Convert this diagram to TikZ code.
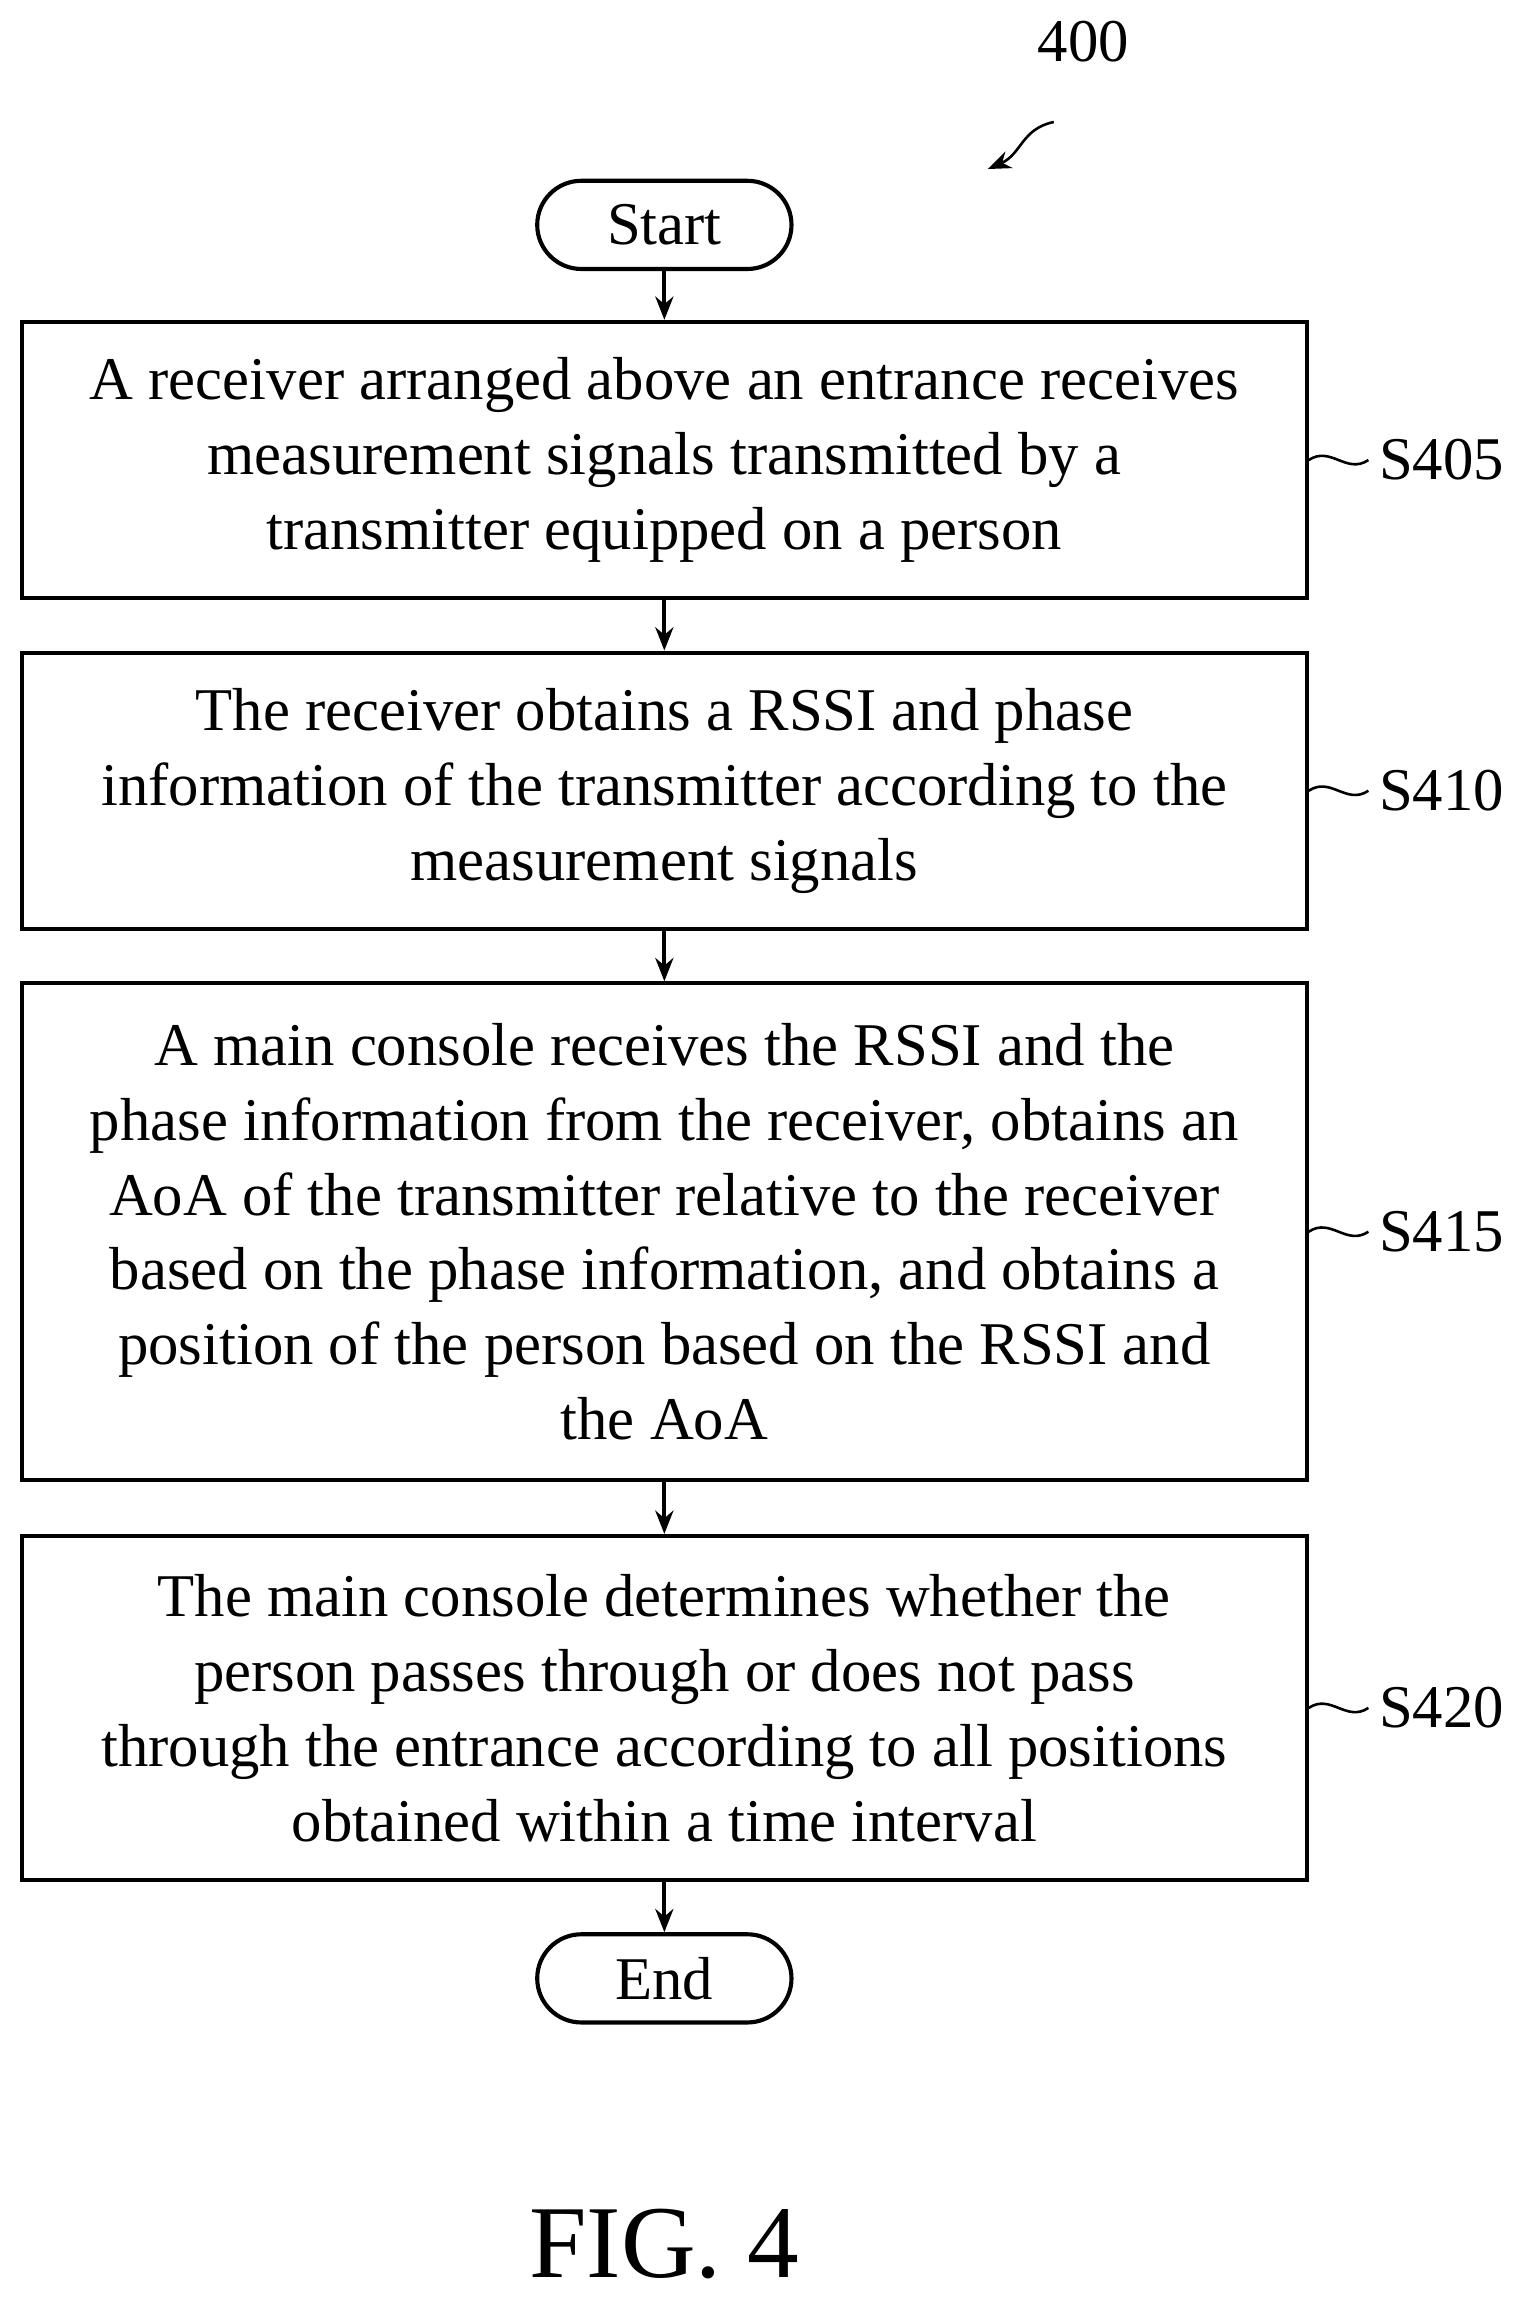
\documentclass[tikz,border=0pt]{standalone}
\usepackage{fontspec}
\setmainfont{Liberation Serif}
\usetikzlibrary{arrows.meta}
\begin{document}
\begin{tikzpicture}[line width=1.6pt, >={Stealth[length=9pt,width=7pt]},
    stepbox/.style={draw, rectangle, minimum width=17.48cm, align=center, font=\fontsize{23.5}{29}\selectfont},
    term/.style={draw, rectangle, rounded corners=0.6cm, minimum width=3.46cm, minimum height=1.2cm, font=\fontsize{23.5}{29}\selectfont},
    tag/.style={anchor=west, font=\fontsize{23.5}{29}\selectfont}]
    \useasboundingbox (0,0) rectangle (20.88,-31.46);
    % Label
    \node[font=\fontsize{23.5}{29}\selectfont] (fignum) at (14.74,-0.56) {400};
    \coordinate (pt) at (14.34,-1.66);
    \coordinate (ph) at (13.44,-2.3);
    \draw[->, line width=1pt] (pt) .. controls (13.9,-1.75) and (13.9,-2.1) .. (ph);
    % Terminals
    \node[term] (start) at (9.04,-3.06) {Start};
    \node[term] (end) at (9.04,-26.92) {End};
    % Steps
    \node[stepbox, minimum height=3.76cm] (s405) at (9.04,-6.26) {A receiver arranged above an entrance receives\\measurement signals transmitted by a\\transmitter equipped on a person};
    \node[stepbox, minimum height=3.76cm] (s410) at (9.04,-10.76) {The receiver obtains a RSSI and phase\\information of the transmitter according to the\\measurement signals};
    \node[stepbox, minimum height=6.76cm] (s415) at (9.04,-16.76) {A main console receives the RSSI and the\\phase information from the receiver, obtains an\\AoA of the transmitter relative to the receiver\\based on the phase information, and obtains a\\position of the person based on the RSSI and\\the AoA};
    \node[stepbox, minimum height=4.68cm] (s420) at (9.04,-23.24) {The main console determines whether the\\person passes through or does not pass\\through the entrance according to all positions\\obtained within a time interval};
    % Step tags
    \foreach \s/\y in {405/-6.26, 410/-10.76, 415/-16.76, 420/-23.24} {
        \node[tag] (t\s) at (18.62,\y) {S\s};
        \draw[line width=1pt] (s\s.east) .. controls +(0.3,0.2) and +(-0.3,-0.2) .. (t\s.west);
    }
    % Arrows
    \draw[->] (start) -- (s405);
    \draw[->] (s405) -- (s410);
    \draw[->] (s410) -- (s415);
    \draw[->] (s415) -- (s420);
    \draw[->] (s420) -- (end);
    % Caption
    \node[font=\fontsize{40}{48}\selectfont] (caption) at (9.04,-30.54) {FIG. 4};
\end{tikzpicture}
\end{document}
